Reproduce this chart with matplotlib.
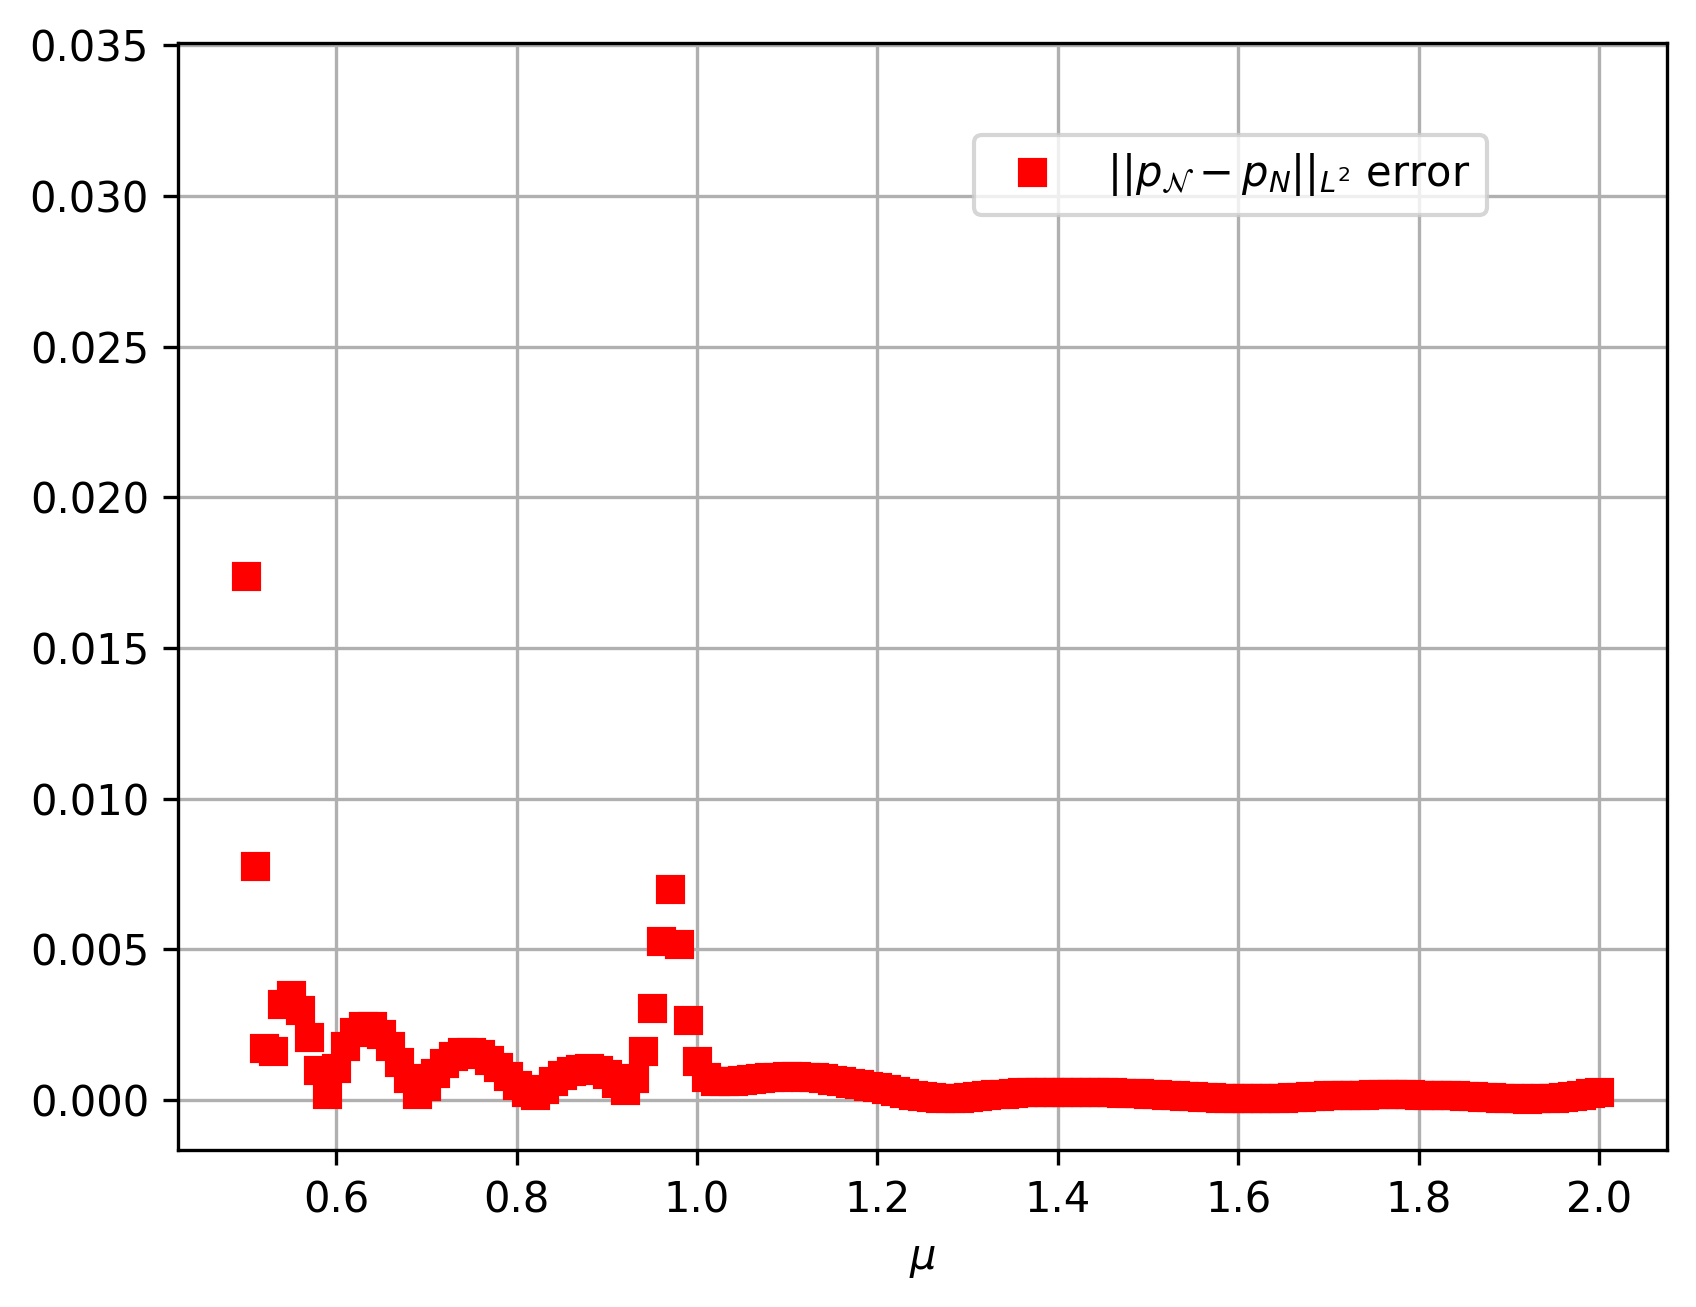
import matplotlib
matplotlib.use("Agg")
import matplotlib.pyplot as plt
import numpy as np

# mu sweep, 0.50 .. 2.00 in steps of 0.01
mu = np.linspace(0.5, 2.0, 151)

# L2 error (units of 1e-3)
err_05 = [17.40, 7.76, 1.73, 1.64, 3.19, 3.48, 3.00, 2.10, 0.99, 0.20,
          1.05, 1.78, 2.25, 2.46, 2.44, 2.20, 1.79, 1.27, 0.72, 0.20]
err_07 = [0.45, 0.90, 1.22, 1.47, 1.59, 1.60, 1.51, 1.33, 1.09, 0.81,
          0.50, 0.25, 0.17, 0.38, 0.62, 0.82, 0.96, 1.04, 1.06, 1.01]
err_09 = [0.86, 0.55, 0.34, 0.72, 1.61, 3.06, 5.27, 6.99, 5.17, 2.65,
          1.28, 0.76, 0.62, 0.62, 0.64, 0.67, 0.70, 0.73, 0.75, 0.77]
err_11 = [0.78, 0.78, 0.77, 0.75, 0.72, 0.68, 0.63, 0.58, 0.53, 0.47,
          0.42, 0.36, 0.30, 0.24, 0.18, 0.13, 0.09, 0.07, 0.07, 0.08]
err_13 = [0.10, 0.13, 0.16, 0.19, 0.21, 0.23, 0.25, 0.26, 0.27, 0.28,
          0.28, 0.28, 0.28, 0.28, 0.27, 0.26, 0.25, 0.24, 0.23, 0.22]
err_15 = [0.20, 0.19, 0.17, 0.16, 0.14, 0.12, 0.11, 0.09, 0.07, 0.06,
          0.05, 0.05, 0.05, 0.06, 0.07, 0.08, 0.10, 0.11, 0.12, 0.14]
err_17 = [0.15, 0.16, 0.17, 0.18, 0.18, 0.19, 0.19, 0.19, 0.19, 0.19,
          0.18, 0.18, 0.17, 0.16, 0.15, 0.14, 0.12, 0.11, 0.09, 0.08]
err_19 = [0.06, 0.05, 0.04, 0.05, 0.06, 0.08, 0.11, 0.14, 0.18, 0.22,
          0.26]

err = np.array(err_05 + err_07 + err_09 + err_11 + err_13 + err_15
               + err_17 + err_19) * 1e-3

fig = plt.figure(figsize=(1696 / 300, 1307 / 300), dpi=300)
ax = fig.add_axes([0.1051, 0.1201, 0.9827 - 0.1051, 0.9671 - 0.1201])

ax.plot(mu, err, "rs", label=r"$||p_{\mathcal{N}} - p_N||_{L^2}$ error")
ax.set_xlim(0.425, 2.075)
ax.set_ylim(-0.00166, 0.03507)
ax.set_yticks(np.arange(0, 0.0351, 0.005))
ax.set_xticks([0.6, 0.8, 1.0, 1.2, 1.4, 1.6, 1.8, 2.0])
ax.set_xlabel(r"$\mu$")
ax.grid(True)
ax.legend(loc="upper right", bbox_to_anchor=(0.8934, 0.936))

fig.savefig("out.png", dpi=300)
